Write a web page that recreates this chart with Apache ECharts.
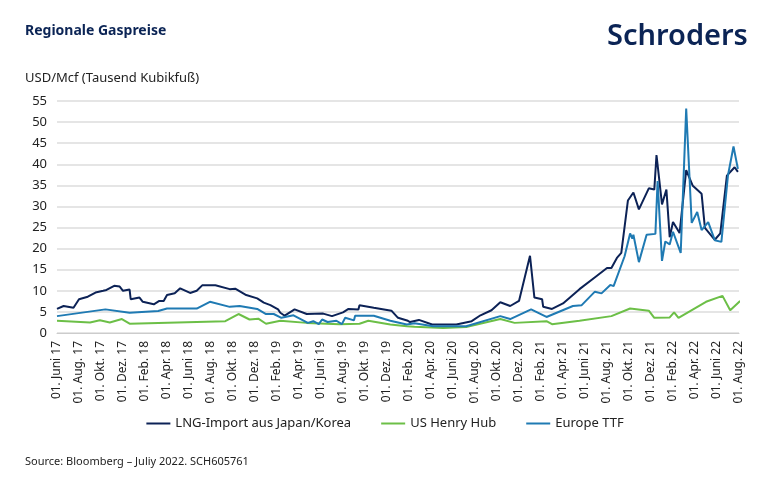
<!DOCTYPE html>
<html><head><meta charset="utf-8">
<script src="https://cdn.jsdelivr.net/npm/echarts@6/dist/echarts.min.js"></script>
<style>body{margin:0;background:#fff}#c{width:770px;height:491px}</style>
</head><body><div id="c"></div>
<script>
// x = months since 01. Juni 2017
const tickLabels = ["01. Juni 17","01. Aug. 17","01. Okt. 17","01. Dez. 17","01. Feb. 18","01. Apr. 18","01. Juni 18","01. Aug. 18","01. Okt. 18","01. Dez. 18","01. Feb. 19","01. Apr. 19","01. Juni 19","01. Aug. 19","01. Okt. 19","01. Dez. 19","01. Feb. 20","01. Apr. 20","01. Juni 20","01. Aug. 20","01. Okt. 20","01. Dez. 20","01. Feb. 21","01. Apr. 21","01. Juni 21","01. Aug. 21","01. Okt. 21","01. Dez. 21","01. Feb. 22","01. Apr. 22","01. Juni 22","01. Aug. 22"];
const lng = [[0,5.7],[0.6,6.4],[1.5,6.0],[2,8.0],[2.8,8.6],[3.5,9.6],[4.2,10],[4.5,10.2],[5.2,11.2],[5.7,11],[6,10],[6.6,10.3],[6.7,8],[7.5,8.4],[7.8,7.4],[8.8,6.8],[9.3,7.6],[9.7,7.6],[10,9],[10.7,9.4],[11.2,10.6],[12.1,9.5],[12.7,10],[13.2,11.3],[14.4,11.3],[15.7,10.4],[16.2,10.5],[17.2,9],[18.2,8.2],[18.8,7.2],[19.4,6.6],[20.1,5.6],[20.3,4.8],[20.7,4.1],[21.6,5.6],[22.7,4.5],[24.2,4.6],[25,4],[26,4.9],[26.5,5.7],[27.4,5.6],[27.5,6.6],[28.8,6],[30.4,5.3],[31,3.6],[31.9,2.9],[32.1,2.6],[32.9,3.1],[34.1,2],[36.3,2],[37.7,2.8],[38.5,4.2],[39.5,5.4],[40.3,7.3],[41.2,6.4],[42,7.6],[43,18.3],[43.4,8.4],[44.1,8],[44.2,6.2],[45,5.7],[46,7],[47.5,10.4],[49,13.4],[50,15.4],[50.4,15.4],[50.9,17.8],[51.3,19],[51.9,31.4],[52.4,33.3],[52.9,29.3],[53.8,34.3],[54.3,34],[54.5,42.2],[55,30.5],[55.4,34],[55.7,22.7],[56,26.3],[56.6,23.7],[57.2,38.6],[57.8,34.9],[58.6,33],[58.9,24.9],[59.8,22.1],[60.3,23.6],[60.9,37.3],[61.6,39.3],[61.9,38.2]];
const henryHub = [[0,2.9],[3,2.5],[3.9,3],[4.8,2.5],[5.9,3.3],[6.6,2.2],[15.3,2.8],[16.5,4.5],[17.5,3.2],[18.3,3.4],[19,2.2],[20.3,2.9],[22.7,2.4],[25.7,2.1],[27.5,2.2],[28.3,2.9],[30.3,2],[31.8,1.6],[32.5,1.5],[35.1,1.2],[37.2,1.4],[40.3,3.3],[41.6,2.4],[44.5,2.8],[45,2.1],[47.5,2.9],[50.4,4],[52.1,5.8],[53.8,5.3],[54.3,3.6],[55.7,3.7],[56.1,4.9],[56.5,3.6],[59,7.4],[60.5,8.8],[61.2,5.4],[62.1,7.6]];
const ttf = [[0,4],[4.4,5.6],[6.6,4.8],[9.2,5.2],[10,5.8],[12.7,5.8],[13.9,7.4],[15.7,6.2],[16.6,6.4],[18.2,5.7],[19,4.5],[19.7,4.5],[20.4,3.6],[21.5,4.2],[22.8,2.4],[23.3,2.8],[23.8,2.1],[24.1,3.2],[24.6,2.6],[25.4,2.9],[25.9,2.1],[26.2,3.6],[27,3],[27.1,4.1],[28.8,4.1],[30.3,2.9],[31.8,2],[32.5,2.3],[34.2,1.6],[37.2,1.6],[40.3,4],[41.2,3.3],[43.1,5.6],[44.5,3.8],[46.9,6.4],[47.7,6.6],[48.9,9.8],[49.5,9.4],[50.3,11.4],[50.6,11.1],[51.6,18.2],[52.1,23.6],[52.3,22.4],[52.4,23.3],[52.9,16.8],[53.6,23.3],[54.4,23.5],[54.6,36],[55,17.1],[55.3,21.7],[55.7,21],[56,24],[56.7,19],[57.2,53.2],[57.7,26.1],[58.2,28.7],[58.6,24.4],[59.2,26.3],[59.8,22],[60.4,21.6],[61,37.4],[61.5,44.2],[61.9,38.9]];

const chart = echarts.init(document.getElementById('c'));
const ff = '"Noto Sans", "Open Sans", sans-serif';
chart.setOption({
  animation:false,
  textStyle:{fontFamily:ff},
  graphic:[
    {type:'text',left:25,top:24,style:{text:'Regionale Gaspreise',font:'bold 14px '+ff,fill:'#0b2455'}},
    {type:'text',left:607,top:22,style:{text:'Schroders',font:'600 29px '+ff,fill:'#0b2455'}},
    {type:'text',left:25,top:72,style:{text:'USD/Mcf (Tausend Kubikfuß)',font:'13px '+ff,fill:'#222'}},
    {type:'text',left:25,top:456,style:{text:'Source: Bloomberg – Juliy 2022. SCH605761',font:'11px '+ff,fill:'#222'}}
  ],
  grid:{left:57,right:31,top:101,bottom:158},
  legend:{bottom:56,left:'center',itemWidth:24,itemHeight:2,itemGap:30,icon:'rect',
    textStyle:{fontSize:13,color:'#222'},
    data:['LNG-Import aus Japan/Korea','US Henry Hub','Europe TTF']},
  xAxis:{type:'value',min:0,max:62,interval:2,
    axisLine:{show:true,lineStyle:{color:'#ccc'}},axisTick:{show:false},splitLine:{show:false},
    axisLabel:{rotate:90,fontSize:12,color:'#222',formatter:v=>tickLabels[v/2]||''}},
  yAxis:{type:'value',min:0,max:55,interval:5,
    axisLabel:{fontSize:13,color:'#222',margin:10},
    splitLine:{lineStyle:{color:'#dcdcdc',width:1.5}},axisLine:{show:false},axisTick:{show:false}},
  series:[
    {name:'LNG-Import aus Japan/Korea',type:'line',data:lng,showSymbol:false,lineStyle:{width:2,color:'#0c2256'},itemStyle:{color:'#0c2256'}},
    {name:'US Henry Hub',type:'line',data:henryHub,showSymbol:false,lineStyle:{width:2,color:'#6cbf47'},itemStyle:{color:'#6cbf47'}},
    {name:'Europe TTF',type:'line',data:ttf,showSymbol:false,lineStyle:{width:2,color:'#1f7ab3'},itemStyle:{color:'#1f7ab3'}}
  ]
});
</script></body></html>
